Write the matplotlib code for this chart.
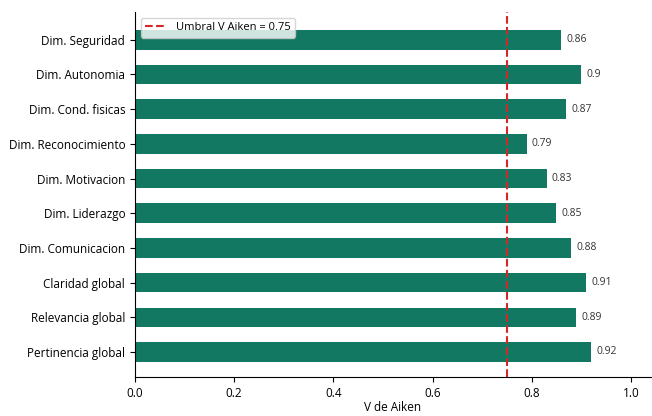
import matplotlib
matplotlib.use("Agg")
import matplotlib.pyplot as plt

plt.rcParams['font.family'] = ['Open Sans', 'DejaVu Sans']

categories = ["Pertinencia global", "Relevancia global", "Claridad global",
              "Dim. Comunicacion", "Dim. Liderazgo", "Dim. Motivacion",
              "Dim. Reconocimiento", "Dim. Cond. fisicas", "Dim. Autonomia",
              "Dim. Seguridad"]
values = [0.92, 0.89, 0.91, 0.88, 0.85, 0.83, 0.79, 0.87, 0.90, 0.86]
threshold = 0.75

fig = plt.figure(figsize=(6.52, 4.16), dpi=100)
ax = fig.add_axes([0.207, 0.094, 0.791, 0.877])
ypos = list(range(len(categories)))
ax.barh(ypos, values, height=0.56, color="#137862")
ax.axvline(threshold, color="#d62728", linestyle="--", linewidth=1.5,
           label="Umbral V Aiken = 0.75")
for y, v in zip(ypos, values):
    ax.text(v + 0.01, y, f"{v:g}", va="center", ha="left", fontsize=7.5, color="#333333")
ax.set_yticks(ypos)
ax.set_yticklabels(categories, fontsize=8.5)
ax.set_ylim(-0.72, 9.8)
ax.set_xlim(0, 1.04)
ax.set_xticks([0.0, 0.2, 0.4, 0.6, 0.8, 1.0])
ax.tick_params(axis='x', labelsize=8.5)
ax.set_xlabel("V de Aiken", fontsize=8.5, labelpad=1)
ax.spines['top'].set_visible(False)
ax.spines['right'].set_visible(False)
ax.legend(loc="upper left", fontsize=8, framealpha=0.8, borderpad=0.4,
          handlelength=2.0, borderaxespad=0.5)
fig.savefig("out.png", dpi=100)
